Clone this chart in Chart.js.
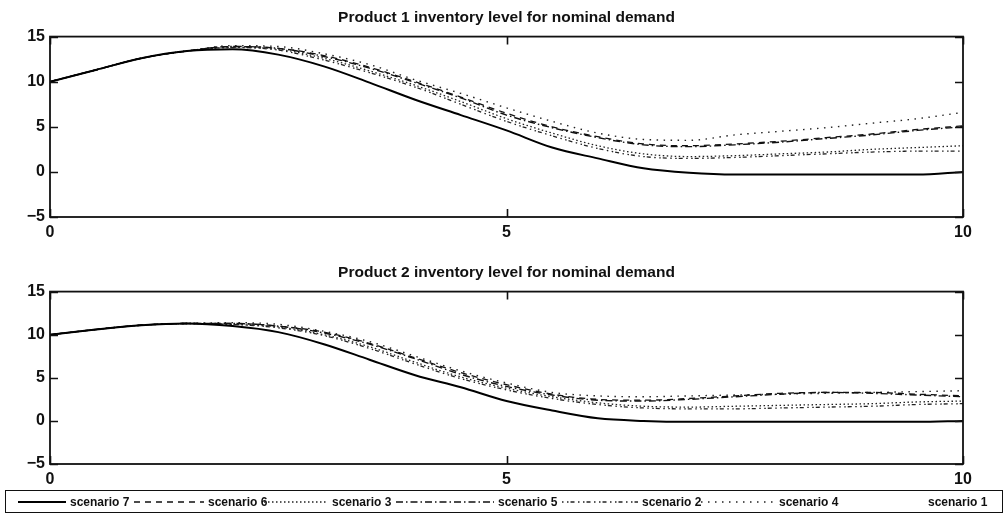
<!DOCTYPE html>
<html>
<head>
<meta charset="utf-8">
<script src="https://cdn.jsdelivr.net/npm/chart.js@4/dist/chart.umd.min.js"></script>
<style>
  html, body { margin: 0; padding: 0; background: #fff; }
  body { width: 1008px; height: 518px; position: relative; overflow: hidden; font-family: "Liberation Sans", Arial, sans-serif; }
  .panel { position: absolute; left: 0; width: 1008px; }
  #panel1 { top: 0; height: 245px; }
  #panel2 { top: 255px; height: 237px; }
  #legend { position: absolute; left: 5px; top: 490px; width: 996px; height: 21px; border: 1.5px solid #111; box-sizing: content-box; }
  .item { position: absolute; top: 0; height: 21px; display: flex; align-items: center; font-size: 12px; font-weight: bold; color: #111; white-space: nowrap; }
  .item svg { display: block; margin-right: 4px; }
</style>
</head>
<body>
<div class="panel" id="panel1"><canvas id="c1"></canvas></div>
<div class="panel" id="panel2"><canvas id="c2"></canvas></div>
<div id="legend"></div>
<script>
// Simulation time grid (same for both products)
const timeGrid = [0, 0.5, 1, 1.5, 2, 2.5, 3, 3.5, 4, 4.5, 5, 5.5, 6, 6.5, 7, 7.5, 8, 8.5, 9, 9.5, 10];

// Product 1 inventory level per scenario
const p1Scenario7 = [10.0, 11.3, 12.6, 13.4, 13.6, 13.0, 11.7, 9.9, 8.0, 6.3, 4.6, 2.7, 1.5, 0.4, -0.1, -0.3, -0.3, -0.3, -0.3, -0.3, 0.0];
const p1Scenario6 = [10.0, 11.3, 12.6, 13.4, 13.9, 13.7, 12.9, 11.6, 10.0, 8.3, 6.5, 5.0, 3.9, 3.1, 2.9, 3.1, 3.4, 3.8, 4.2, 4.7, 5.1];
const p1Scenario3 = [10.0, 11.3, 12.6, 13.4, 13.8, 13.6, 12.6, 11.2, 9.6, 7.8, 5.9, 4.3, 2.9, 2.0, 1.7, 1.8, 2.0, 2.2, 2.5, 2.7, 2.9];
const p1Scenario5 = [10.0, 11.3, 12.6, 13.4, 13.9, 13.7, 12.8, 11.5, 9.9, 8.2, 6.3, 4.9, 3.8, 3.0, 2.8, 3.0, 3.3, 3.7, 4.1, 4.6, 5.0];
const p1Scenario2 = [10.0, 11.3, 12.6, 13.4, 13.8, 13.5, 12.4, 11.0, 9.4, 7.5, 5.6, 4.0, 2.6, 1.7, 1.5, 1.6, 1.8, 2.0, 2.2, 2.3, 2.3];
const p1Scenario4 = [10.0, 11.3, 12.6, 13.4, 14.0, 13.9, 13.1, 11.9, 10.2, 8.7, 7.1, 5.6, 4.3, 3.6, 3.5, 4.1, 4.5, 4.9, 5.4, 5.9, 6.6];
const p1Scenario1 = [10.0, 11.3, 12.6, 13.4, 13.8, 13.5, 12.4, 11.0, 9.4, 7.5, 5.6, 4.0, 2.6, 1.7, 1.5, 1.6, 1.8, 2.0, 2.2, 2.3, 2.3];

// Product 2 inventory level per scenario
const p2Scenario7 = [10.0, 10.6, 11.1, 11.3, 11.0, 10.3, 8.9, 7.1, 5.3, 3.9, 2.3, 1.2, 0.3, 0.0, -0.1, -0.1, -0.1, -0.1, -0.1, -0.1, 0.0];
const p2Scenario6 = [10.0, 10.6, 11.1, 11.3, 11.3, 11.0, 10.3, 9.0, 7.3, 5.6, 4.2, 3.1, 2.5, 2.4, 2.6, 2.9, 3.2, 3.3, 3.3, 3.1, 2.9];
const p2Scenario3 = [10.0, 10.6, 11.1, 11.3, 11.2, 10.9, 10.0, 8.6, 6.8, 5.1, 3.8, 2.8, 2.1, 1.7, 1.6, 1.7, 1.8, 1.9, 2.0, 2.2, 2.3];
const p2Scenario5 = [10.0, 10.6, 11.1, 11.3, 11.3, 11.0, 10.2, 8.9, 7.2, 5.4, 4.0, 3.0, 2.4, 2.3, 2.5, 2.8, 3.1, 3.3, 3.2, 3.0, 2.8];
const p2Scenario2 = [10.0, 10.6, 11.1, 11.3, 11.2, 10.8, 9.9, 8.4, 6.6, 4.9, 3.6, 2.6, 1.9, 1.5, 1.4, 1.4, 1.5, 1.6, 1.7, 1.9, 2.0];
const p2Scenario4 = [10.0, 10.6, 11.1, 11.3, 11.4, 11.2, 10.4, 9.2, 7.5, 5.8, 4.4, 3.3, 2.9, 2.8, 2.9, 3.0, 3.1, 3.2, 3.3, 3.4, 3.5];
const p2Scenario1 = [10.0, 10.6, 11.1, 11.3, 11.2, 10.8, 9.9, 8.4, 6.6, 4.9, 3.6, 2.6, 1.9, 1.5, 1.4, 1.4, 1.5, 1.6, 1.7, 1.9, 2.0];

// Axis ticks
const xTicks = [0, 5, 10];
const yTicks = [-5, 0, 5, 10, 15];

const scenarioNames = ['scenario 7', 'scenario 6', 'scenario 3', 'scenario 5', 'scenario 2', 'scenario 4', 'scenario 1'];

// Line style for each scenario (same order as scenarioNames)
const lineStyles = [
  { color: '#000', width: 2.0, dash: [] },
  { color: '#111', width: 1.3, dash: [6, 5] },
  { color: '#222', width: 1.3, dash: [1.5, 2.5] },
  { color: '#111', width: 1.4, dash: [7, 3, 1.5, 3] },
  { color: '#222', width: 1.3, dash: [1.5, 3.5, 1.5, 2, 4, 3.5] },
  { color: '#222', width: 1.4, dash: [1.5, 5.5] },
  { color: '#fff', width: 1.0, dash: [] }
];

const axisFont = '"Liberation Sans", Arial, sans-serif';

function toPoints(values) {
  return values.map((v, i) => ({ x: timeGrid[i], y: v }));
}

function buildDatasets(seriesList) {
  return seriesList.map((values, i) => ({
    label: scenarioNames[i],
    data: toPoints(values),
    borderColor: lineStyles[i].color,
    borderWidth: lineStyles[i].width,
    borderDash: lineStyles[i].dash,
    borderCapStyle: 'butt',
    pointRadius: 0,
    fill: false,
    cubicInterpolationMode: 'monotone',
    order: i === 6 ? 1 : 0
  }));
}

// Plot frame with inward tick marks on all four sides
const framePlugin = {
  id: 'frame',
  afterDatasetsDraw(chart) {
    const { ctx, chartArea: a, scales } = chart;
    const len = 8;
    ctx.save();
    ctx.strokeStyle = '#111';
    ctx.lineWidth = 1.6;
    ctx.setLineDash([]);
    ctx.beginPath();
    yTicks.forEach(v => {
      const py = Math.round(scales.y.getPixelForValue(v)) + 0.5;
      ctx.moveTo(a.left, py); ctx.lineTo(a.left + len, py);
      ctx.moveTo(a.right, py); ctx.lineTo(a.right - len, py);
    });
    xTicks.forEach(v => {
      const px = Math.round(scales.x.getPixelForValue(v)) + 0.5;
      ctx.moveTo(px, a.bottom); ctx.lineTo(px, a.bottom - len);
      ctx.moveTo(px, a.top); ctx.lineTo(px, a.top + len);
    });
    ctx.stroke();
    ctx.lineWidth = 1.8;
    ctx.strokeRect(a.left, a.top, a.right - a.left, a.bottom - a.top);
    ctx.restore();
  }
};

function makeChart(canvasId, title, seriesList) {
  return new Chart(document.getElementById(canvasId), {
    type: 'line',
    data: { datasets: buildDatasets(seriesList) },
    plugins: [framePlugin],
    options: {
      responsive: true,
      maintainAspectRatio: false,
      animation: false,
      events: [],
      layout: { padding: { left: 0, right: 45, top: 0, bottom: 0 } },
      plugins: {
        legend: { display: false },
        tooltip: { enabled: false },
        title: {
          display: true,
          fullSize: false,
          text: title,
          color: '#111',
          font: { family: axisFont, size: 15.5, weight: 'bold' },
          padding: { top: 8, bottom: 10 }
        }
      },
      scales: {
        x: {
          type: 'linear',
          min: 0, max: 10,
          afterBuildTicks: s => { s.ticks = xTicks.map(v => ({ value: v })); },
          afterFit: s => { s.height = 28; },
          grid: { display: false, drawTicks: false },
          border: { display: false },
          ticks: { color: '#111', padding: 6, maxRotation: 0, font: { family: axisFont, size: 16, weight: 'bold' } }
        },
        y: {
          type: 'linear',
          min: -5, max: 15,
          afterBuildTicks: s => { s.ticks = yTicks.map(v => ({ value: v })); },
          afterFit: s => { s.width = 50; },
          grid: { display: false, drawTicks: false },
          border: { display: false },
          ticks: {
            color: '#111', padding: 5,
            font: { family: axisFont, size: 16, weight: 'bold' },
            callback: v => (v < 0 ? '\u2212' + Math.abs(v) : String(v))
          }
        }
      }
    }
  });
}

makeChart('c1', 'Product 1 inventory level for nominal demand',
  [p1Scenario7, p1Scenario6, p1Scenario3, p1Scenario5, p1Scenario2, p1Scenario4, p1Scenario1]);
makeChart('c2', 'Product 2 inventory level for nominal demand',
  [p2Scenario7, p2Scenario6, p2Scenario3, p2Scenario5, p2Scenario2, p2Scenario4, p2Scenario1]);

// Legend row: line sample followed by the scenario name
const legendLeft = [12, 128, 258, 390, 556, 695, 862];
const sampleWidth = [48, 70, 64, 98, 76, 74, 56];
const legend = document.getElementById('legend');
scenarioNames.forEach((name, i) => {
  const item = document.createElement('div');
  item.className = 'item';
  item.style.left = legendLeft[i] + 'px';
  const st = lineStyles[i];
  const w = sampleWidth[i];
  const ns = 'http://www.w3.org/2000/svg';
  const svg = document.createElementNS(ns, 'svg');
  svg.setAttribute('width', w); svg.setAttribute('height', 10);
  const line = document.createElementNS(ns, 'line');
  line.setAttribute('x1', 0); line.setAttribute('x2', w);
  line.setAttribute('y1', 5); line.setAttribute('y2', 5);
  line.setAttribute('stroke', st.color);
  line.setAttribute('stroke-width', st.width);
  if (st.dash.length) line.setAttribute('stroke-dasharray', st.dash.join(' '));
  svg.appendChild(line);
  const label = document.createElement('span');
  label.textContent = name;
  item.appendChild(svg);
  item.appendChild(label);
  legend.appendChild(item);
});
</script>
</body>
</html>
